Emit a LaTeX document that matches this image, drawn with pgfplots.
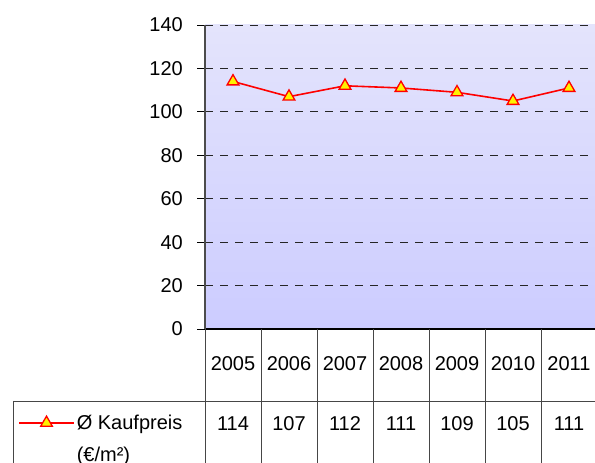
\documentclass[border=0pt]{standalone}
\usepackage{pgfplots}
\pgfplotsset{compat=1.18}
\usepackage{fontspec}
\setmainfont{Liberation Sans}
\definecolor{bgtop}{RGB}{228,228,252}
\definecolor{bgbot}{RGB}{204,204,255}
\definecolor{tline}{RGB}{70,70,70}
\newcommand{\cf}{\fontsize{20bp}{24bp}\selectfont}
\pgfplotstableread{
x y
0 114
1 107
2 112
3 111
4 109
5 105
6 111
}\kaufdata
\begin{document}
\begin{tikzpicture}
\useasboundingbox (0,0) rectangle (595bp,463bp);
\clip (0,0) rectangle (595bp,463bp);
\begin{axis}[
  at={(205bp,134bp)}, anchor=south west,
  scale only axis, width=392bp, height=304bp,
  xmin=-0.5, xmax=6.5, ymin=0, ymax=140,
  ytick={0,20,...,140},
  xtick={0,...,6},
  xticklabels={2005\\[36bp]114,2006\\[36bp]107,2007\\[36bp]112,2008\\[36bp]111,2009\\[36bp]109,2010\\[36bp]105,2011\\[36bp]111},
  axis x line=bottom, axis y line=left,
  x axis line style={-, black, line width=1.2bp},
  y axis line style={-, gray!60!black, line width=1.5bp},
  tick align=outside,
  major tick length=8bp,
  xtick style={draw=none},
  ytick style={black, line width=0.8bp},
  ymajorgrids,
  grid style={dash pattern=on 8bp off 7bp, black!85, line width=0.9bp},
  axis background/.style={shade, top color=bgtop, bottom color=bgbot},
  /pgf/number format/assume math mode=true,
  ticklabel style={font=\cf},
  yticklabel style={anchor=east, inner sep=0pt, xshift=-14bp},
  xticklabel style={anchor=north, align=center, inner sep=0pt, yshift=-19bp},
  clip=false,
  legend style={at={(rel axis cs:-0.477,-0.309)}, anchor=west, draw=none, fill=none,
    inner sep=0pt, font=\cf, cells={anchor=west}},
  legend image code/.code={\draw[mark repeat=2, mark phase=2, #1] plot coordinates {(0bp,0bp) (27.5bp,0bp) (55bp,0bp)};},
]
\addplot[red, line width=1.6bp, mark=triangle*, mark size=6.8bp,
  mark options={fill=yellow, draw=red, line width=1.3bp, solid}] table[x=x, y=y] {\kaufdata};
\addlegendentry{\smash{\makebox[0pt][l]{\raisebox{-32bp}{(€/m²)}}}Ø Kaufpreis}
\end{axis}
% table rules
\begin{scope}[tline, line width=0.9bp]
\foreach \k in {0,...,7} {
  \draw ({205bp+56bp*\k},134bp) -- ({205bp+56bp*\k},-10bp);
}
\draw (13bp,62bp) -- (600bp,62bp);
\draw (13bp,62bp) -- (13bp,-10bp);
\end{scope}
\end{tikzpicture}
\end{document}
